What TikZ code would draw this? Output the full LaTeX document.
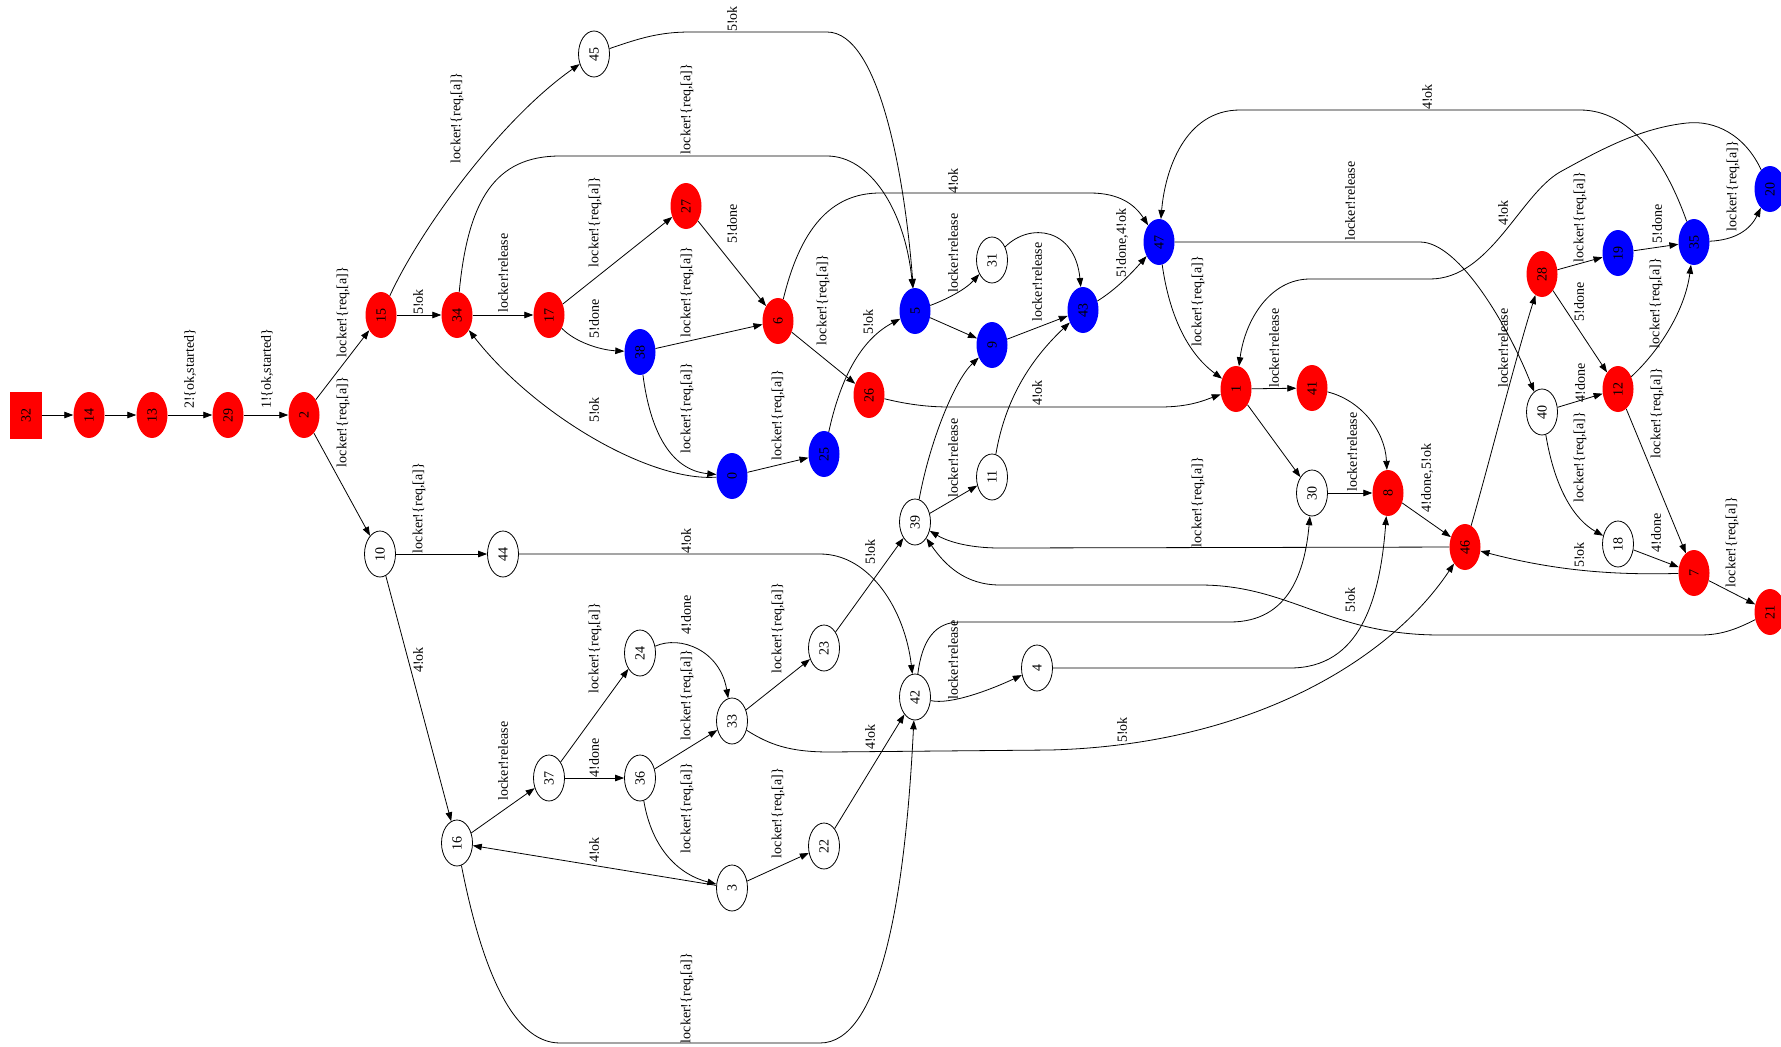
\documentclass[tikz,border=0pt]{standalone}
\usepackage{fontspec}
\setmainfont{Liberation Serif}
\usepackage{tikz}
\usetikzlibrary{arrows.meta,shapes.geometric}
\newcommand{\graphfont}{\fontsize{14}{16}\selectfont}
\newcommand{\lockreq}{locker!\{req,[a]\}}
\newcommand{\lockrel}{locker!release}

\begin{document}
\begin{tikzpicture}[x=1pt, y=-1pt,
    state/.style={ellipse, minimum width=46pt, minimum height=31pt, inner sep=0pt, rotate=90, font=\graphfont},
    rstate/.style={state, fill=red},
    bstate/.style={state, fill=blue},
    wstate/.style={state, draw=black, line width=0.8pt},
    startbox/.style={rectangle, minimum width=47pt, minimum height=32pt, inner sep=0pt, rotate=90, fill=red, font=\graphfont},
    trans/.style={line width=0.8pt, -{Triangle[length=9pt,width=6.5pt]}},
    lbl/.style={rotate=90, font=\graphfont, inner sep=0pt}
]
    \useasboundingbox (0,0) rectangle (1781,1047);

    % States
    \node[startbox] (n32) at (26,415) {32};
    \node[rstate] (n14) at (89,415) {14};
    \node[rstate] (n13) at (152,415) {13};
    \node[rstate] (n29) at (228,415) {29};
    \node[rstate] (n2) at (304,415) {2};
    \node[rstate] (n15) at (381,315) {15};
    \node[wstate] (n10) at (380,554) {10};
    \node[rstate] (n34) at (457,315) {34};
    \node[wstate] (n45) at (594,54) {45};
    \node[wstate] (n44) at (503,554) {44};
    \node[wstate] (n16) at (457,843) {16};
    \node[rstate] (n17) at (549,315) {17};
    \node[rstate] (n27) at (686,206) {27};
    \node[bstate] (n38) at (640,352) {38};
    \node[rstate] (n6) at (778,321) {6};
    \node[bstate] (n0) at (732,476) {0};
    \node[bstate] (n25) at (824,454) {25};
    \node[rstate] (n26) at (869,395) {26};
    \node[wstate] (n37) at (549,778) {37};
    \node[wstate] (n36) at (640,778) {36};
    \node[wstate] (n24) at (640,653) {24};
    \node[wstate] (n33) at (732,721) {33};
    \node[wstate] (n3) at (732,888) {3};
    \node[wstate] (n22) at (824,846) {22};
    \node[wstate] (n23) at (824,648) {23};
    \node[bstate] (n5) at (915,311) {5};
    \node[wstate] (n39) at (915,522) {39};
    \node[wstate] (n42) at (915,697) {42};
    \node[wstate] (n31) at (992,260) {31};
    \node[bstate] (n9) at (992,345) {9};
    \node[wstate] (n11) at (992,477) {11};
    \node[wstate] (n4) at (1037,668) {4};
    \node[bstate] (n43) at (1083,310) {43};
    \node[bstate] (n47) at (1159,242) {47};
    \node[rstate] (n1) at (1236,389) {1};
    \node[rstate] (n41) at (1312,388) {41};
    \node[wstate] (n30) at (1312,493) {30};
    \node[rstate] (n8) at (1388,493) {8};
    \node[rstate] (n46) at (1465,547) {46};
    \node[rstate] (n28) at (1542,274) {28};
    \node[wstate] (n40) at (1542,412) {40};
    \node[bstate] (n19) at (1618,253) {19};
    \node[rstate] (n12) at (1618,389) {12};
    \node[wstate] (n18) at (1618,544) {18};
    \node[bstate] (n35) at (1694,242) {35};
    \node[rstate] (n7) at (1694,573) {7};
    \node[bstate] (n20) at (1770,189) {20};
    \node[rstate] (n21) at (1770,612) {21};

    % Start chain
    \draw[trans] (n32) -- (n14);
    \draw[trans] (n14) -- (n13);
    \draw[trans] (n13) -- (n29) node[lbl] at (190,369) {2!\{ok,started\}};
    \draw[trans] (n29) -- (n2) node[lbl] at (267,369) {1!\{ok,started\}};
    \draw[trans] (n2) -- (n15) node[lbl] at (343,312) {\lockreq};
    \draw[trans] (n2) -- (n10) node[lbl] at (343,422) {\lockreq};

    % Upper part
    \draw[trans] (n15) .. controls (420,230) and (500,120) .. (n45) node[lbl] at (457,118) {\lockreq};
    \draw[trans] (n15) -- (n34) node[lbl] at (418,302) {5!ok};
    \draw[trans] (n34) -- (n17) node[lbl] at (503,273) {\lockrel};
    \draw[trans] (n34) .. controls (468,200) and (495,156) .. (560,156) -- (827,156) .. controls (870,156) and (905,210) .. (n5) node[lbl] at (687,109) {\lockreq};
    \draw[trans] (n45) .. controls (640,38) and (660,32) .. (690,32) -- (827,32) .. controls (880,32) and (905,180) .. (n5) node[lbl] at (732,19) {5!ok};
    \draw[trans] (n17) -- (n27) node[lbl] at (595,222) {\lockreq};
    \draw[trans] (n17) .. controls (575,342) and (600,350) .. (n38) node[lbl] at (594,319) {5!done};
    \draw[trans] (n27) -- (n6) node[lbl] at (732,224) {5!done};
    \draw[trans] (n38) -- (n6) node[lbl] at (687,292) {\lockreq};
    \draw[trans] (n38) .. controls (650,430) and (670,470) .. (n0) node[lbl] at (687,408) {\lockreq};
    \draw[trans] (n0) .. controls (650,482) and (535,415) .. (n34) node[lbl] at (594,410) {5!ok};
    \draw[trans] (n0) -- (n25) node[lbl] at (778,415) {\lockreq};
    \draw[trans] (n6) .. controls (800,230) and (830,193) .. (880,193) -- (1090,193) .. controls (1120,193) and (1135,205) .. (n47) node[lbl] at (953,181) {4!ok};
    \draw[trans] (n6) -- (n26) node[lbl] at (823,300) {\lockreq};
    \draw[trans] (n25) .. controls (840,380) and (860,340) .. (n5) node[lbl] at (868,322) {5!ok};
    \draw[trans] (n26) .. controls (910,405) and (930,407) .. (950,407) -- (1160,407) .. controls (1190,407) and (1205,400) .. (n1) node[lbl] at (1037,393) {4!ok};
    \draw[trans] (n5) .. controls (945,300) and (965,290) .. (n31) node[lbl] at (953,253) {\lockrel};
    \draw[trans] (n5) -- (n9);
    \draw[trans] (n31) .. controls (1030,222) and (1075,228) .. (n43);
    \draw[trans] (n9) -- (n43) node[lbl] at (1037,282) {\lockrel};
    \draw[trans] (n11) .. controls (1005,400) and (1030,360) .. (n43);
    \draw[trans] (n39) .. controls (930,440) and (955,380) .. (n9);
    \draw[trans] (n39) -- (n11) node[lbl] at (953,458) {\lockrel};
    \draw[trans] (n23) -- (n39) node[lbl] at (870,552) {5!ok};
    \draw[trans] (n46) -- (1000,548) .. controls (965,548) and (945,540) .. (n39) node[lbl] at (1198,502) {\lockreq};
    \draw[trans] (n21) .. controls (1735,630) and (1720,635) .. (1700,635) -- (1440,635) .. controls (1330,635) and (1290,585) .. (1200,585) -- (1000,585) .. controls (965,585) and (945,565) .. (n39) node[lbl] at (1350,600) {5!ok};

    % Right part
    \draw[trans] (n1) -- (n41) node[lbl] at (1274,348) {\lockrel};
    \draw[trans] (n1) -- (n30);
    \draw[trans] (n41) .. controls (1360,400) and (1385,430) .. (n8);
    \draw[trans] (n30) -- (n8) node[lbl] at (1352,452) {\lockrel};
    \draw[trans] (n42) .. controls (922,640) and (935,622) .. (960,622) -- (1230,622) .. controls (1290,622) and (1305,570) .. (n30);
    \draw[trans] (n42) .. controls (950,705) and (990,690) .. (n4) node[lbl] at (953,660) {\lockrel};
    \draw[trans] (n4) -- (1290,668) .. controls (1360,668) and (1380,600) .. (n8);
    \draw[trans] (n8) -- (n46) node[lbl] at (1427,478) {4!done,5!ok};
    \draw[trans] (n46) .. controls (1490,460) and (1515,360) .. (n28) node[lbl] at (1503,348) {\lockrel};
    \draw[trans] (n33) .. controls (770,745) and (790,752) .. (830,752) -- (1050,750) .. controls (1250,745) and (1390,660) .. (n46) node[lbl] at (1122,730) {5!ok};
    \draw[trans] (n7) .. controls (1620,575) and (1560,572) .. (n46) node[lbl] at (1579,555) {5!ok};
    \draw[trans] (n47) -- (1420,242) .. controls (1460,242) and (1510,330) .. (n40) node[lbl] at (1350,201) {\lockrel};
    \draw[trans] (n47) .. controls (1170,320) and (1190,355) .. (n1) node[lbl] at (1198,301) {\lockreq};
    \draw[trans] (n20) .. controls (1745,135) and (1715,120) .. (1687,123) .. controls (1640,128) and (1600,150) .. (1560,172) .. controls (1520,195) and (1490,279) .. (1430,279) -- (1310,279) .. controls (1270,279) and (1245,320) .. (n1) node[lbl] at (1503,213) {4!ok};
    \draw[trans] (n35) .. controls (1665,160) and (1630,110) .. (1580,110) -- (1240,110) .. controls (1185,110) and (1165,170) .. (n47) node[lbl] at (1427,97) {4!ok};
    \draw[trans] (n43) .. controls (1115,290) and (1130,275) .. (n47) node[lbl] at (1122,243) {5!done,4!ok};
    \draw[trans] (n28) -- (n19) node[lbl] at (1580,217) {\lockreq};
    \draw[trans] (n28) -- (n12) node[lbl] at (1579,302) {5!done};
    \draw[trans] (n19) -- (n35) node[lbl] at (1657,224) {5!done};
    \draw[trans] (n35) .. controls (1735,240) and (1750,230) .. (n20) node[lbl] at (1733,186) {\lockreq};
    \draw[trans] (n12) .. controls (1660,350) and (1685,310) .. (n35) node[lbl] at (1656,303) {\lockreq};
    \draw[trans] (n40) -- (n12) node[lbl] at (1580,383) {4!done};
    \draw[trans] (n40) .. controls (1555,490) and (1575,520) .. (n18) node[lbl] at (1580,457) {\lockreq};
    \draw[trans] (n12) -- (n7) node[lbl] at (1657,413) {\lockreq};
    \draw[trans] (n18) -- (n7) node[lbl] at (1656,533) {4!done};
    \draw[trans] (n7) -- (n21) node[lbl] at (1732,542) {\lockreq};

    % Lower part
    \draw[trans] (n10) -- (n44) node[lbl] at (419,508) {\lockreq};
    \draw[trans] (n10) -- (n16) node[lbl] at (418,660) {4!ok};
    \draw[trans] (n44) -- (820,554) .. controls (870,554) and (905,610) .. (n42) node[lbl] at (686,541) {4!ok};
    \draw[trans] (n16) -- (n37) node[lbl] at (503,761) {\lockrel};
    \draw[trans] (n37) -- (n24) node[lbl] at (595,648) {\lockreq};
    \draw[trans] (n37) -- (n36) node[lbl] at (594,758) {4!done};
    \draw[trans] (n24) .. controls (680,635) and (720,650) .. (n33) node[lbl] at (686,615) {4!done};
    \draw[trans] (n36) -- (n33) node[lbl] at (687,695) {\lockreq};
    \draw[trans] (n36) .. controls (652,850) and (680,875) .. (n3) node[lbl] at (687,808) {\lockreq};
    \draw[trans] (n3) -- (n16) node[lbl] at (594,850) {4!ok};
    \draw[trans] (n33) -- (n23) node[lbl] at (778,628) {\lockreq};
    \draw[trans] (n3) -- (n22) node[lbl] at (778,813) {\lockreq};
    \draw[trans] (n22) -- (n42) node[lbl] at (870,737) {4!ok};
    \draw[trans] (n16) .. controls (480,960) and (510,1043) .. (560,1043) -- (820,1043) .. controls (880,1043) and (905,900) .. (n42) node[lbl] at (687,998) {\lockreq};

\end{tikzpicture}
\end{document}
